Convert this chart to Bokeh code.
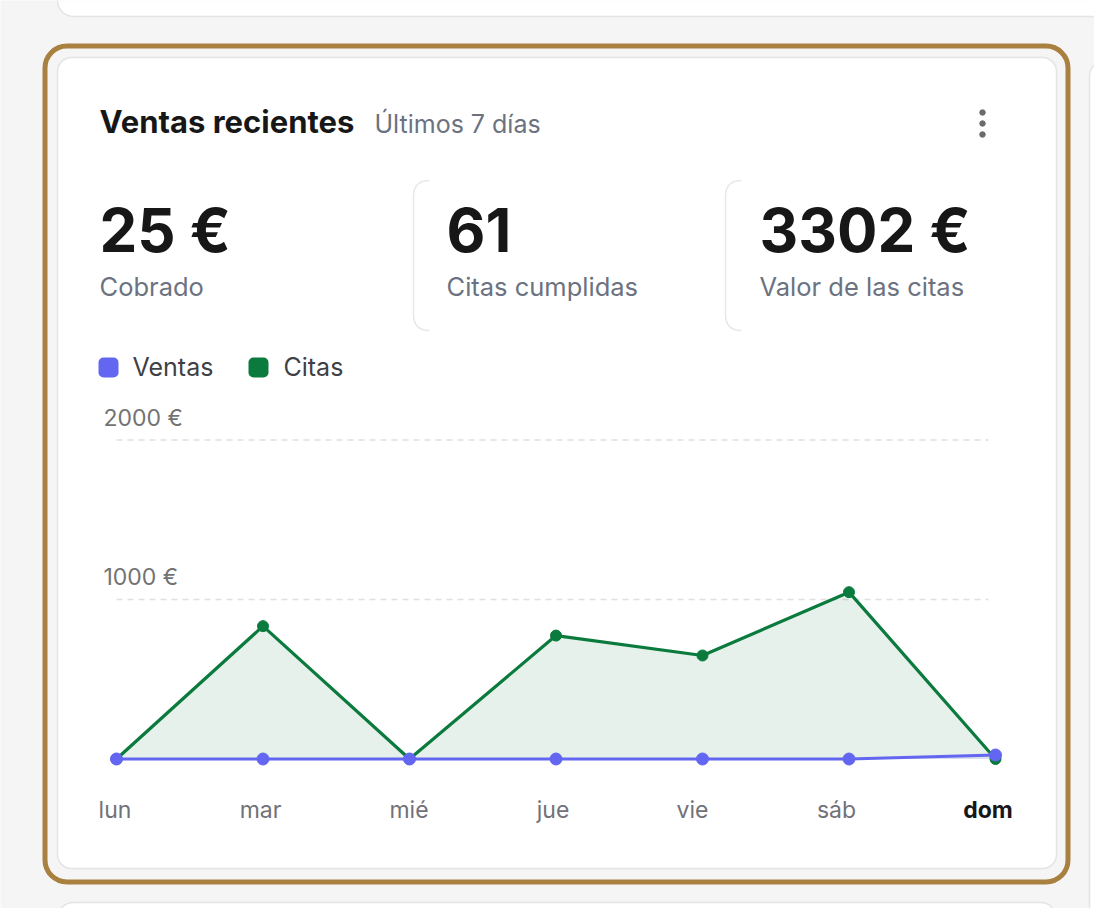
from bokeh.plotting import figure
from bokeh.models import Range1d, ColumnDataSource, BoxAnnotation
from bokeh.core.properties import value
from bokeh.embed import file_html
from bokeh.resources import INLINE

# ---------------- data ----------------
days = ["lun", "mar", "mié", "jue", "vie", "sáb", "dom"]
ventas = [0, 0, 0, 0, 0, 0, 25]
citas = [0, 833, 0, 774, 649, 1046, 0]
y_ticks = [1000, 2000]
y_tick_labels = ["1000 €", "2000 €"]
stat_values = ["25 €", "61", "3302 €"]
stat_labels = ["Cobrado", "Citas cumplidas", "Valor de las citas"]
series_names = ["Ventas", "Citas"]
title_text = "Ventas recientes"
subtitle_text = "Últimos 7 días"

# ---------------- style / layout ----------------
FONT = value("Inter")
BG = "#f5f5f5"
GOLD = "#a9803f"
PURPLE = "#6366f1"
GREEN = "#0a7a3d"
DARK = "#171717"
GRAY = "#6b7280"
CARD_LINE = "#e4e4e7"

W, H = 1094, 908

# chart geometry in canvas pixels
X0_PX, DX_PX = 116.0, 146.5
Y0_PX, PX_PER_EUR = 758.5, 0.1595
# day labels are laid out with "space-between" (centres in canvas pixels)
DAY_LABEL_CX = [114.5, 260, 408.5, 552.5, 692, 836, 987.5]


def idx_at(px):
    return (px - X0_PX) / DX_PX


def eur_at(py):
    return (Y0_PX - py) / PX_PER_EUR


p = figure(width=W, height=H,
           x_range=Range1d(0, W), y_range=Range1d(H, 0),
           x_axis_type=None, y_axis_type=None,
           output_backend="svg", toolbar_location=None, min_border=0)
p.grid.visible = False
p.outline_line_color = None
p.background_fill_color = BG
p.border_fill_color = BG
p.extra_x_ranges = {"days": Range1d(idx_at(0), idx_at(W))}
p.extra_y_ranges = {"eur": Range1d(eur_at(H), eur_at(0))}


def card(l, r, t, b, fill="white", line=CARD_LINE, lw=1.5, radius=16, level="underlay"):
    box = BoxAnnotation(left=l, right=r, top=t, bottom=b,
                        fill_color=fill, fill_alpha=1 if fill else 0,
                        line_color=line, line_alpha=1 if line else 0,
                        line_width=lw, border_radius=radius, level=level)
    p.add_layout(box)


# surrounding cards
card(57, 1250, -100, 16)
card(1089, 1300, 60, 1100)
card(57, 1056, 902, 1100)
# gold highlight ring
card(44.5, 1067.5, 45.5, 881.5, fill=None, line=GOLD, lw=5, radius=22)
# main card
card(57, 1056, 57, 868, radius=14)

# stat box left borders
for bx in [413, 725]:
    p.segment(x0=[bx], y0=[196], x1=[bx], y1=[314], line_color="#e8e8ea", line_width=1.5)
    p.quadratic(x0=[bx + 16], y0=[180], x1=[bx], y1=[196], cx=[bx], cy=[180],
                line_color="#e8e8ea", line_width=1.5)
    p.quadratic(x0=[bx], y0=[314], x1=[bx + 16], y1=[330], cx=[bx], cy=[330],
                line_color="#e8e8ea", line_width=1.5)

# header
p.text(x=[99], y=[121], text=[title_text], text_font=FONT, text_font_size="31px",
       text_font_style="bold", text_color=DARK, text_baseline="middle")
p.text(x=[374], y=[123], text=[subtitle_text], text_font=FONT, text_font_size="25px",
       text_color=GRAY, text_baseline="middle")
p.scatter(x=[982, 982, 982], y=[112, 123, 134], size=5.5, color="#6b6b6b")

# stats
stat_x = [99, 446, 759]
p.text(x=stat_x, y=[229] * 3, text=stat_values, text_font=FONT, text_font_size="60px",
       text_font_style="bold", text_color=DARK, text_baseline="middle")
p.text(x=stat_x, y=[286] * 3, text=stat_labels, text_font=FONT, text_font_size="25.5px",
       text_color=GRAY, text_baseline="middle")

# legend
for (lx, tx), name, col in zip([(98, 132), (248, 283)], series_names, [PURPLE, GREEN]):
    card(lx, lx + 20, 357, 377, fill=col, line=None, lw=0, radius=5, level="annotation")
    p.text(x=[tx], y=[366], text=[name], text_font=FONT, text_font_size="25px",
           text_color="#3f3f46", text_baseline="middle")

# ---------------- chart ----------------
idx = list(range(len(days)))
src = ColumnDataSource(dict(i=idx, day=days, ventas=ventas, citas=citas,
                            zero=[0] * len(days)))
R = dict(x_range_name="days", y_range_name="eur")

# grid
grid_src = ColumnDataSource(dict(x0=[0] * len(y_ticks), x1=[idx_at(988)] * len(y_ticks),
                                 y=y_ticks, lab=y_tick_labels,
                                 ly=[t + 22.5 / PX_PER_EUR for t in y_ticks],
                                 lx=[idx_at(103)] * len(y_ticks)))
p.segment(x0="x0", y0="y", x1="x1", y1="y", source=grid_src, line_color="#e0e0e0",
          line_width=1.5, line_dash="6 5", **R)
p.text(x="lx", y="ly", text="lab", source=grid_src, text_font=FONT, text_font_size="23px",
       text_color="#737373", text_baseline="middle", **R)

# areas
p.varea(x="i", y1="zero", y2="citas", source=src, fill_color=GREEN, fill_alpha=0.1, **R)
p.varea(x="i", y1="zero", y2="ventas", source=src, fill_color=PURPLE, fill_alpha=0.12, **R)
# lines
p.line(x="i", y="citas", source=src, line_color=GREEN, line_width=3.2, **R)
p.line(x="i", y="ventas", source=src, line_color=PURPLE, line_width=3.2, **R)
# points
p.scatter(x="i", y="citas", source=src, size=11, color=GREEN, **R)
p.scatter(x="i", y="ventas", source=src, size=12, color=PURPLE, **R)

# x (day) labels
n = len(days)
p.text(x=DAY_LABEL_CX[:-1], y=[809] * (n - 1), text=days[:-1], text_font=FONT,
       text_font_size="23px", text_color="#71717a", text_align="center",
       text_baseline="middle")
p.text(x=DAY_LABEL_CX[-1:], y=[809], text=days[-1:], text_font=FONT, text_font_size="23px",
       text_font_style="bold", text_color=DARK, text_align="center",
       text_baseline="middle")

open("out.html", "w").write(file_html(p, INLINE))
